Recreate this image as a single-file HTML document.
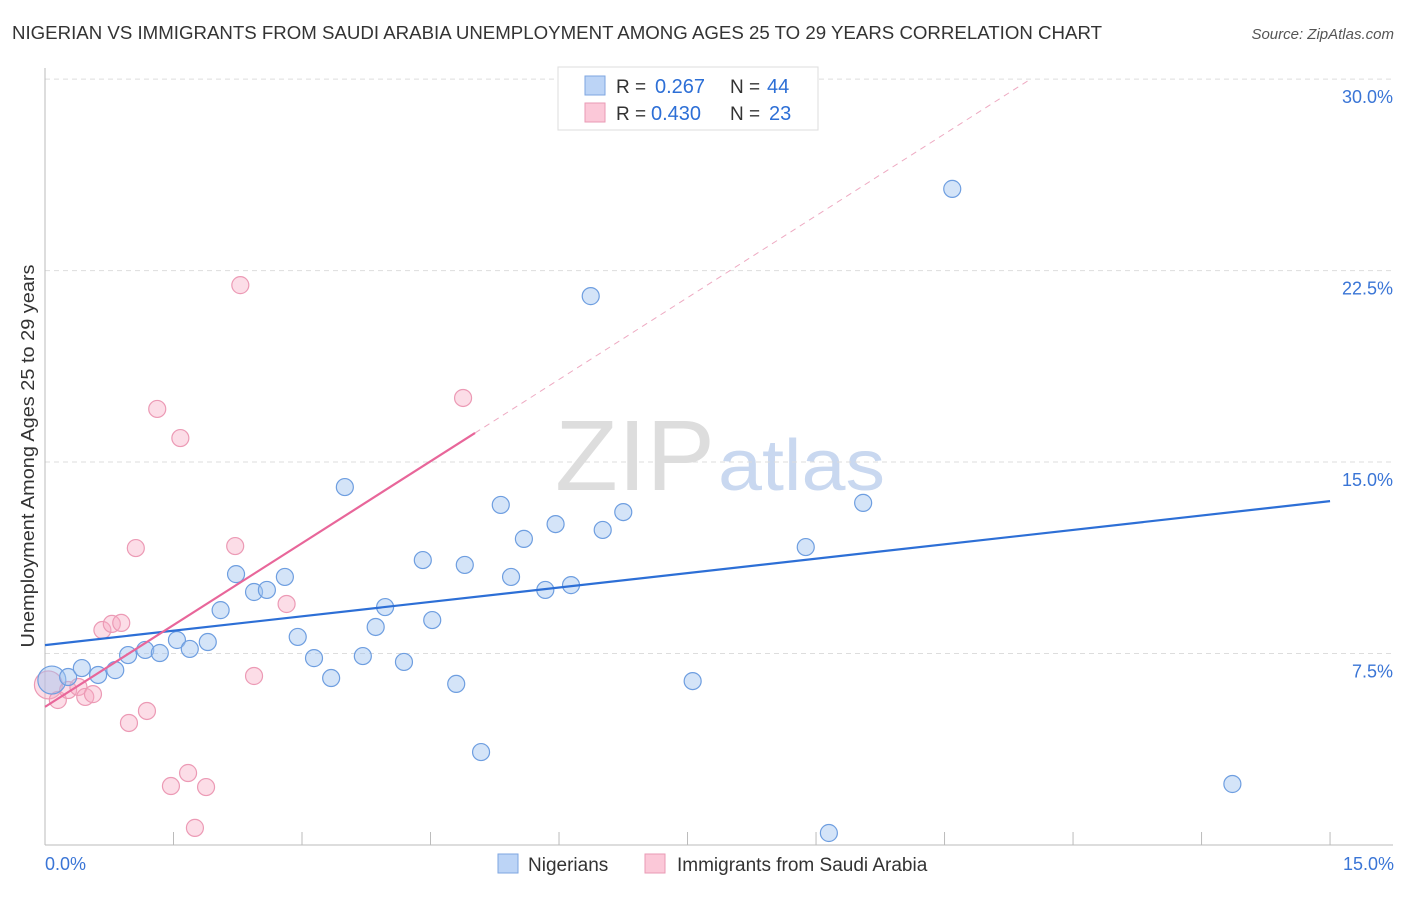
<!DOCTYPE html>
<html><head><meta charset="utf-8"><style>
body{margin:0;background:#fff;font-family:"Liberation Sans",sans-serif;}
svg text{font-family:"Liberation Sans",sans-serif;}
</style></head><body>
<svg width="1406" height="892" xmlns="http://www.w3.org/2000/svg" id="chart">
<text x="12" y="39" font-size="18" fill="#333" textLength="1090" lengthAdjust="spacingAndGlyphs">NIGERIAN VS IMMIGRANTS FROM SAUDI ARABIA UNEMPLOYMENT AMONG AGES 25 TO 29 YEARS CORRELATION CHART</text>
<text x="1394" y="39" font-size="15" fill="#555" font-style="italic" text-anchor="end">Source: ZipAtlas.com</text>
<text x="555" y="490" font-size="100" fill="#ddd" textLength="160" lengthAdjust="spacingAndGlyphs" font-family="Liberation Serif">ZIP</text>
<text x="718" y="490" font-size="72" fill="#c9d8f0" textLength="167" lengthAdjust="spacingAndGlyphs">atlas</text>
<g id="grid"></g><g id="axes"></g><g id="marks"></g>
<text transform="translate(34,456) rotate(-90)" font-size="18" fill="#333" text-anchor="middle" textLength="383" lengthAdjust="spacingAndGlyphs">Unemployment Among Ages 25 to 29 years</text>
<text x="45" y="870" font-size="18" fill="#3a75d6">0.0%</text>
<text x="1394" y="870" font-size="18" fill="#3a75d6" text-anchor="end">15.0%</text>
<g>
<rect x="558" y="67" width="260" height="63" fill="#fff" stroke="#ddd"/>
<rect x="585" y="76" width="20" height="19" fill="#bcd4f6" stroke="#7ea6e0"/>
<rect x="585" y="103" width="20" height="19" fill="#fbc8d8" stroke="#ea9ab4"/>
<text x="616" y="93" font-size="19" fill="#333">R =</text>
<text x="655" y="93" font-size="20" fill="#2d6fd6">0.267</text>
<text x="730" y="93" font-size="19" fill="#333">N =</text>
<text x="767" y="93" font-size="20" fill="#2d6fd6">44</text>
<text x="616" y="120" font-size="19" fill="#333">R =</text>
<text x="651" y="120" font-size="20" fill="#2d6fd6">0.430</text>
<text x="730" y="120" font-size="19" fill="#333">N =</text>
<text x="769" y="120" font-size="20" fill="#2d6fd6">23</text>
</g>
<g>
<rect x="498" y="854" width="20" height="19" fill="#bcd4f6" stroke="#7ea6e0"/>
<text x="528" y="871" font-size="19" fill="#333">Nigerians</text>
<rect x="645" y="854" width="20" height="19" fill="#fbc8d8" stroke="#ea9ab4"/>
<text x="677" y="871" font-size="19" fill="#333">Immigrants from Saudi Arabia</text>
</g>
</svg>
<script>
const yTicks=[7.5,15,22.5,30];
const yTickLabels=["7.5%","15.0%","22.5%","30.0%"];
const blueX=[0.08,0.27,0.43,0.62,0.82,0.97,1.17,1.34,1.54,1.69,1.90,2.05,2.23,2.44,2.59,2.80,2.95,3.14,3.34,3.50,3.71,3.86,3.97,4.19,4.41,4.52,4.80,4.90,5.09,5.32,5.44,5.59,5.84,5.96,6.14,6.37,6.51,6.75,7.56,8.88,9.15,9.55,10.59,13.86];
const blueY=[6.46,6.58,6.93,6.66,6.85,7.44,7.64,7.52,8.03,7.68,7.95,9.20,10.61,9.91,9.99,10.50,8.15,7.32,6.54,14.02,7.40,8.54,9.32,7.17,11.16,8.81,6.31,10.97,3.64,13.32,10.50,11.99,9.99,12.57,10.18,21.50,12.34,13.04,6.42,11.67,0.47,13.40,25.70,2.39];
const pinkX=[0.04,0.15,0.27,0.39,0.47,0.56,0.67,0.78,0.89,0.98,1.06,1.19,1.31,1.47,1.58,1.67,1.75,1.88,2.22,2.28,2.44,2.82,4.88];
const pinkY=[6.27,5.68,6.07,6.19,5.80,5.91,8.42,8.66,8.70,4.78,11.63,5.25,17.08,2.31,15.94,2.82,0.67,2.27,11.71,21.93,6.62,9.44,17.51];
const blueFit=[7.83,13.47];
const pinkFit=[5.41,16.14,5.02];
const X=v=>45+v*85.67, Y=v=>845-v*25.53;
const NS="http://www.w3.org/2000/svg";
function mk(p,t,a){const e=document.createElementNS(NS,t);for(const k in a)e.setAttribute(k,a[k]);p.appendChild(e);return e;}
const grid=document.getElementById('grid'),axes=document.getElementById('axes'),marks=document.getElementById('marks');
yTicks.forEach((t,i)=>{
 const l=mk(grid,'line',{x1:45,x2:1393,y1:Y(t),y2:Y(t),stroke:'#ddd','stroke-dasharray':'5,4'});
 
 
 const tx=mk(grid,'text',{x:1393,y:Y(t)+24,'font-size':18,fill:'#3a75d6','text-anchor':'end'});
 tx.textContent=yTickLabels[i];
 
 
});
let a=mk(axes,'line',{x1:45,x2:45,y1:68,y2:845,stroke:'#bbb'});


a=mk(axes,'line',{x1:45,x2:1393,y1:845,y2:845,stroke:'#bbb'});


for(let i=0;i<=10;i++){const v=i*1.5;
 const t=mk(axes,'line',{x1:X(v),x2:X(v),y1:832,y2:845,stroke:'#bbb'});
 
 }
pinkX.forEach((x,i)=>{
 const c=mk(marks,'circle',{cx:X(x),cy:Y(pinkY[i]),r:i==0?14:8.5,fill:'rgba(247,170,195,0.4)',stroke:'#ec9ab5','stroke-width':1.2});
 
 
});
blueX.forEach((x,i)=>{
 const c=mk(marks,'circle',{cx:X(x),cy:Y(blueY[i]),r:i==0?14:8.5,fill:'rgba(160,195,240,0.45)',stroke:'#6e9ee0','stroke-width':1.2});
 
 
});
let ln=mk(marks,'line',{x1:X(0),y1:Y(blueFit[0]),x2:X(15),y2:Y(blueFit[1]),stroke:'#2d6fd6','stroke-width':2.2});


const slope=(pinkFit[1]-pinkFit[0])/pinkFit[2];
ln=mk(marks,'line',{x1:X(0),y1:Y(pinkFit[0]),x2:X(pinkFit[2]),y2:Y(pinkFit[1]),stroke:'#e8669a','stroke-width':2.2});


const xEnd=(30-pinkFit[0])/slope;
ln=mk(marks,'line',{x1:X(pinkFit[2]),y1:Y(pinkFit[1]),x2:X(xEnd),y2:Y(30),stroke:'#eeaac2','stroke-width':1,'stroke-dasharray':'6,5'});


</script>
</body></html>
